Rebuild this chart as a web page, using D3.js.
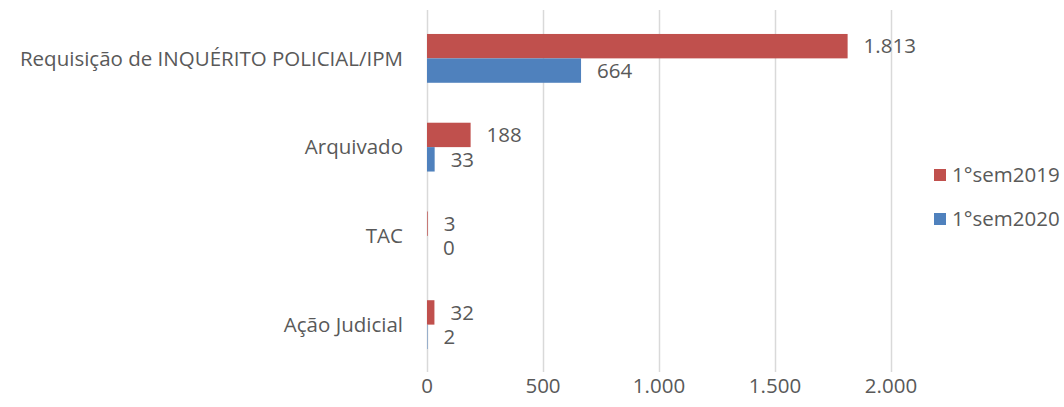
<!DOCTYPE html>
<meta charset="utf-8">
<style>
    body { margin: 0; background: #fff; font-family: "Open Sans", sans-serif; }
    text { fill: #595959; }
    .grid line { stroke: #d9d9d9; stroke-width: 1.5px; }
    .grid path { display: none; }
</style>
<body>
<svg id="chart" width="1064" height="407"></svg>
<script src="https://cdnjs.cloudflare.com/ajax/libs/d3/7.8.5/d3.min.js"></script>
<script>
var categories = ["Requisição de INQUÉRITO POLICIAL/IPM", "Arquivado", "TAC", "Ação Judicial"];
var seriesNames = ["1°sem2019", "1°sem2020"];
var sem2019 = [1813, 188, 3, 32];
var sem2020 = [664, 33, 0, 2];
var xTicks = [0, 500, 1000, 1500, 2000];
var colors = ["#c0504d", "#4f81bd"];

var svg = d3.select("#chart");
var ptBR = d3.formatLocale({ decimal: ",", thousands: ".", grouping: [3], currency: ["R$", ""] });
var fmt = ptBR.format(",d");
var fs = "20.5px";

var x = d3.scaleLinear().domain([0, 2000]).range([427, 891]);
var y = d3.scaleBand().domain(categories).range([14, 369]).paddingInner(0.45).paddingOuter(0.225);
var sub = d3.scaleBand().domain(seriesNames).range([0, y.bandwidth()]);

// vertical gridlines
svg.append("g")
    .attr("class", "grid")
    .attr("transform", "translate(0,372)")
    .call(d3.axisBottom(x).tickValues(xTicks).tickSize(-362).tickFormat(""));

// x tick labels
svg.append("g").selectAll("text")
    .data(xTicks)
    .enter().append("text")
    .attr("x", function (d) { return x(d); })
    .attr("y", 393)
    .attr("text-anchor", "middle")
    .style("font-size", fs)
    .text(function (d) { return fmt(d); });

// category labels
svg.append("g").selectAll("text")
    .data(categories)
    .enter().append("text")
    .attr("x", 403)
    .attr("y", function (d) { return y(d) + y.bandwidth() / 2; })
    .attr("dy", "0.35em")
    .attr("text-anchor", "end")
    .style("font-size", fs)
    .text(function (d) { return d; });

var series = [sem2019, sem2020];
series.forEach(function (vals, si) {
    var g = svg.append("g");
    var rows = categories.map(function (c, i) { return { cat: c, v: vals[i] }; });
    g.selectAll("rect")
        .data(rows)
        .enter().append("rect")
        .attr("x", x(0))
        .attr("y", function (d) { return y(d.cat) + sub(seriesNames[si]); })
        .attr("width", function (d) { return x(d.v) - x(0); })
        .attr("height", sub.bandwidth())
        .attr("fill", colors[si]);
    g.selectAll("text")
        .data(rows)
        .enter().append("text")
        .attr("x", function (d) { return x(d.v) + 16; })
        .attr("y", function (d) { return y(d.cat) + sub(seriesNames[si]) + sub.bandwidth() / 2; })
        .attr("dy", "0.35em")
        .style("font-size", fs)
        .text(function (d) { return fmt(d.v); });
});

// legend
var legend = svg.append("g").selectAll("g")
    .data(seriesNames)
    .enter().append("g")
    .attr("transform", function (d, i) { return "translate(934," + (169 + i * 44) + ")"; });
legend.append("rect")
    .attr("width", 12).attr("height", 12)
    .attr("fill", function (d, i) { return colors[i]; });
legend.append("text")
    .attr("x", 18).attr("y", 6).attr("dy", "0.35em")
    .style("font-size", fs)
    .text(function (d) { return d; });
</script>
</body>
